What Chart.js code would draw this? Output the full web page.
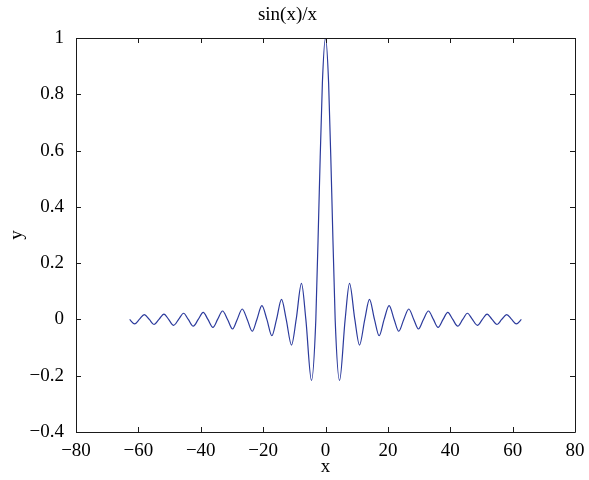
<!DOCTYPE html>
<html>
<head>
<meta charset="utf-8">
<script src="https://cdn.jsdelivr.net/npm/chart.js@4/dist/chart.umd.min.js"></script>
<style>
  html, body { margin: 0; padding: 0; background: #ffffff; }
  #wrap { width: 589px; height: 480px; }
</style>
</head>
<body>
<div id="wrap"><canvas id="c" width="589" height="480"></canvas></div>
<script>
// Values (zero crossings, extrema and a few points on the main lobe)
const xValues = [
  -62.8, -61.2, -59.7, -58.1, -56.5, -55.0, -53.4, -51.8, -50.3, -48.7,
  -47.1, -45.5, -44.0, -42.4, -40.8, -39.2, -37.7, -36.1, -34.6, -33.0,
  -31.4, -29.8, -28.3, -26.7, -25.1, -23.5, -22.0, -20.4, -18.8, -17.2,
  -15.7, -14.1, -12.6, -10.9, -9.4, -7.7, -6.3, -4.5, -3.1, -2.0, -1.0,
  0,
  1.0, 2.0, 3.1, 4.5, 6.3, 7.7, 9.4, 10.9, 12.6, 14.1, 15.7,
  17.2, 18.8, 20.4, 22.0, 23.5, 25.1, 26.7, 28.3, 29.8, 31.4,
  33.0, 34.6, 36.1, 37.7, 39.2, 40.8, 42.4, 44.0, 45.5, 47.1,
  48.7, 50.3, 51.8, 53.4, 55.0, 56.5, 58.1, 59.7, 61.2, 62.8
];
const yValues = [
  0, -0.016, 0, 0.017, 0, -0.018, 0, 0.019, 0, -0.021,
  0, 0.022, 0, -0.024, 0, 0.025, 0, -0.028, 0, 0.030,
  0, -0.034, 0, 0.037, 0, -0.042, 0, 0.049, 0, -0.058,
  0, 0.071, 0, -0.091, 0, 0.128, 0, -0.217, 0, 0.45, 0.84,
  1,
  0.84, 0.45, 0, -0.217, 0, 0.128, 0, -0.091, 0, 0.071, 0,
  -0.058, 0, 0.049, 0, -0.042, 0, 0.037, 0, -0.034, 0,
  0.030, 0, -0.028, 0, 0.025, 0, -0.024, 0, 0.022, 0,
  -0.021, 0, 0.019, 0, -0.018, 0, 0.017, 0, -0.016, 0
];
const xTicks = [-80, -60, -40, -20, 0, 20, 40, 60, 80];
const yTicks = [-0.4, -0.2, 0, 0.2, 0.4, 0.6, 0.8, 1];
const titleText = 'sin(x)/x';
const xLabel = 'x';
const yLabel = 'y';

const FONT = "'Liberation Serif', 'DejaVu Serif', serif";
const fmt = v => String(Number(v.toFixed(1))).replace('-', '\u2212');

const boxPlugin = {
  id: 'matlabBox',
  afterDraw(chart) {
    const ctx = chart.ctx, a = chart.chartArea;
    const xs = chart.scales.x, ys = chart.scales.y;
    const L = 5;
    ctx.save();
    ctx.strokeStyle = '#1a1a1a';
    ctx.lineWidth = 1;
    ctx.beginPath();
    ctx.rect(Math.round(a.left) + 0.5, Math.round(a.top) + 0.5,
             Math.round(a.right - a.left), Math.round(a.bottom - a.top));
    xTicks.forEach(t => {
      const px = Math.round(xs.getPixelForValue(t)) + 0.5;
      ctx.moveTo(px, a.bottom); ctx.lineTo(px, a.bottom - L);
      ctx.moveTo(px, a.top); ctx.lineTo(px, a.top + L);
    });
    yTicks.forEach(t => {
      const py = Math.round(ys.getPixelForValue(t)) + 0.5;
      ctx.moveTo(a.left, py); ctx.lineTo(a.left + L, py);
      ctx.moveTo(a.right, py); ctx.lineTo(a.right - L, py);
    });
    ctx.stroke();
    ctx.restore();
  }
};

new Chart(document.getElementById('c'), {
  type: 'line',
  data: {
    datasets: [{
      data: xValues.map((x, i) => ({ x: x, y: yValues[i] })),
      borderColor: '#2b3a9c',
      borderWidth: 1.2,
      pointRadius: 0,
      fill: false,
      cubicInterpolationMode: 'monotone'
    }]
  },
  options: {
    responsive: false,
    animation: false,
    layout: { padding: { left: 0, right: 14, top: 0, bottom: 0 } },
    plugins: {
      legend: { display: false },
      tooltip: { enabled: false },
      title: {
        display: true,
        text: titleText,
        color: '#000',
        font: { family: FONT, size: 19, weight: 'normal', lineHeight: 1.2 },
        padding: { top: 4, bottom: 11.2 }
      }
    },
    scales: {
      x: {
        type: 'linear',
        min: -80, max: 80,
        afterBuildTicks: s => { s.ticks = xTicks.map(v => ({ value: v })); },
        ticks: {
          color: '#000',
          padding: 0,
          maxRotation: 0,
          font: { family: FONT, size: 19 },
          callback: v => fmt(v)
        },
        grid: { display: false },
        border: { display: false },
        title: {
          display: true, text: xLabel, color: '#000',
          font: { family: FONT, size: 19, lineHeight: 1.2 },
          padding: { top: 2, bottom: 2 }
        },
        afterFit: s => { s.height = 48; }
      },
      y: {
        type: 'linear',
        min: -0.4, max: 1,
        afterBuildTicks: s => { s.ticks = yTicks.map(v => ({ value: v })); },
        ticks: {
          color: '#000',
          padding: 4,
          font: { family: FONT, size: 19 },
          callback: v => fmt(v)
        },
        grid: { display: false },
        border: { display: false },
        title: {
          display: true, text: yLabel, color: '#000',
          font: { family: FONT, size: 19, lineHeight: 1.2 },
          padding: { top: 6, bottom: 6 }
        },
        afterFit: s => { s.width = 76; }
      }
    }
  },
  plugins: [boxPlugin]
});
</script>
</body>
</html>
